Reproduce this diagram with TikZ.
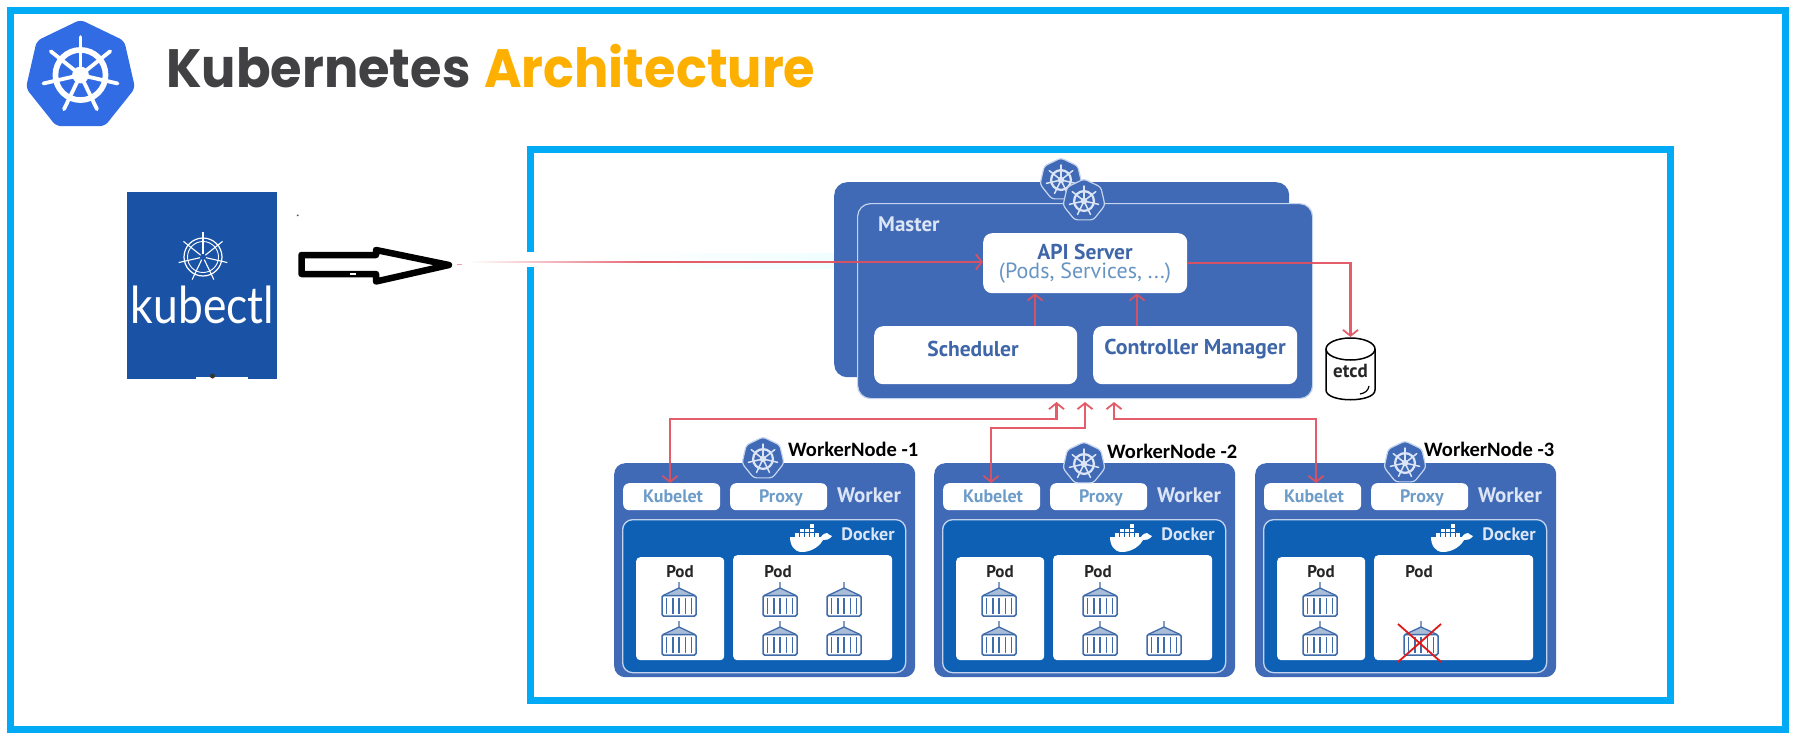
\documentclass[tikz,border=0pt]{standalone}
\usepackage{fontspec}
\usepackage{graphicx}
\setmainfont{PT Sans}
\newfontfamily\titlefont{Poppins}
\newfontfamily\calfont{Carlito}
\newfontfamily\ctlfont{Lato}
\usetikzlibrary{arrows.meta,shapes.geometric,calc}
\definecolor{framec}{HTML}{00AAF5}
\definecolor{panelc}{HTML}{416AB6}
\definecolor{edgec}{HTML}{C4D4EE}
\definecolor{dockerc}{HTML}{0E60B5}
\definecolor{labelc}{HTML}{3F66A8}
\definecolor{softc}{HTML}{6E9CC8}
\definecolor{cratec}{HTML}{3F6BA8}
\definecolor{redc}{HTML}{E2505F}
\definecolor{logoc}{HTML}{326CE5}
\definecolor{ctlc}{HTML}{1A52A6}
\definecolor{titlec}{HTML}{414042}
\definecolor{titley}{HTML}{FDB000}
\tikzset{
  framebox/.style={draw=framec,line width=7pt,miter limit=10},
  panelbox/.style={rectangle,rounded corners=11pt,fill=panelc,inner sep=0pt,anchor=north west},
  whitebox/.style={rectangle,rounded corners=9pt,fill=white,inner sep=0pt,anchor=north west},
  smallbox/.style={rectangle,rounded corners=6pt,fill=white,inner sep=0pt,anchor=north west},
  podbox/.style={rectangle,rounded corners=4pt,fill=white,inner sep=0pt,anchor=north west},
  redline/.style={draw=redc,opacity=.92,line width=2.2pt,>={Straight Barb[length=6pt,width=15pt,line width=1.8pt]}},
  helmhept/.style={regular polygon,regular polygon sides=7,inner sep=0pt,rounded corners=3pt,fill=panelc,draw=edgec,line width=1.2pt},
  mastertext/.style={font=\bfseries\fontsize{21.5}{24}\selectfont,text=labelc,inner sep=0pt},
  whitetext/.style={font=\bfseries\fontsize{21}{24}\selectfont,text=edgec!60!white,inner sep=0pt,anchor=base},
  softtext/.style={font=\bfseries\fontsize{18}{20}\selectfont,text=softc,inner sep=0pt,anchor=base},
  podtext/.style={font=\bfseries\fontsize{17}{20}\selectfont,text=black!85,inner sep=0pt,anchor=base},
  wntext/.style={font=\calfont\bfseries\fontsize{20.5}{24}\selectfont,text=black,inner sep=0pt,anchor=west},
  titletext/.style={font=\titlefont\bfseries\fontsize{54}{60}\selectfont,inner sep=0pt,anchor=base west},
}
% ship's wheel
\newcommand\helm[4]{%
  \begin{scope}[shift={(#1,#2)}]
    \draw[#4,line width={#3*0.15pt}] (0,0) circle ({#3*0.66});
    \foreach \k in {0,...,6}{
      \draw[#4,line cap=round,line width={#3*0.1pt}] ({270+\k*51.43}:{#3*0.12}) -- ({270+\k*51.43}:{#3});
    }
    \fill[#4] (0,0) circle ({#3*0.22});
  \end{scope}}
% container icon; #1 centre x, #2 top y
\newcommand\crate[2]{%
  \begin{scope}[shift={(#1,#2)}]
    \fill[cratec!45!white] (0,6) -- (-15,13.5) -- (15,13.5) -- cycle;
    \draw[cratec,line width=1.3pt] (0,0) -- (0,6) (-16,13.5) -- (0,6) -- (16,13.5);
    \draw[cratec,line width=1.5pt,rounded corners=1.5pt] (-17,13.5) rectangle (17,34);
    \foreach \a in {-12.6,-6.3,0,6.3,12.6}{\draw[cratec,line width=1.6pt] (\a,16) -- (\a,31.5);}
  \end{scope}}
% docker whale; #1 left x, #2 deck y
\newcommand\whale[2]{%
  \begin{scope}[shift={(#1,#2)}]
    \fill[white] (0,0) -- (31,0) .. controls (33,-3) and (35,-4) .. (37,-4) .. controls (38,-2) and (41,-2) .. (42,-1) .. controls (39,3) and (36,3) .. (33,3) .. controls (28,12) and (18,15) .. (12,15) .. controls (4,15) and (0,8) .. (0,0) -- cycle;
    \foreach \a/\b in {5/-4,10/-4,15/-4,20/-4,25/-4,10/-8.5,15/-8.5,20/-8.5,20/-13}{\fill[white] (\a,\b) rectangle ++(3.9,3.5);}
  \end{scope}}
% worker; #1 name prefix, #2 x shift
\newcommand\workerparts[2]{%
  \begin{scope}[shift={(#2,0)}]
    \node[panelbox,minimum width=301pt,minimum height=214pt] (#1panel) at (614,463) {};
    \node[smallbox,minimum width=97pt,minimum height=27pt] (#1kubelet) at (623,483) {};
    \node[softtext] (#1kubelettext) at (673,502) {Kubelet};
    \node[smallbox,minimum width=97pt,minimum height=27pt] (#1proxy) at (730,483) {};
    \node[softtext] (#1proxytext) at (781,502) {Proxy};
    \node[whitetext] (#1workertext) at (869,502) {Worker};
    \node[rectangle,rounded corners=10pt,fill=dockerc,draw=edgec,line width=1.3pt,inner sep=0pt,anchor=north west,minimum width=283pt,minimum height=153pt] (#1docker) at (622,519) {};
    \whale{790}{537}
    \node[font=\bfseries\fontsize{18}{20}\selectfont,text=edgec!60!white,inner sep=0pt,anchor=base] (#1dockertext) at (868,540) {Docker};
    \node[podbox,minimum width=88pt,minimum height=103pt] (#1poda) at (636,557) {};
    \node[podbox,minimum width=159pt,minimum height=105pt] (#1podb) at (733,555) {};
    \node[podtext] (#1podatext) at (680,577) {Pod};
    \node[podtext] (#1podbtext) at (778,577) {Pod};
    \crate{679}{582}
    \crate{679}{621}
  \end{scope}}
\begin{document}
\begin{tikzpicture}[x=1pt,y=-1pt]
\useasboundingbox (0,0) rectangle (1797,739);
\fill[white] (0,0) rectangle (1797,739);
% frames
\draw[framebox] (10.5,10.5) rectangle (1785.5,729.5);
\draw[framebox] (530.5,252) -- (530.5,149.5) -- (1670.5,149.5) -- (1670.5,700.5) -- (530.5,700.5) -- (530.5,267);
% title
\node[helmhept,draw=none,fill=logoc,minimum size=112pt,rounded corners=5pt] (logo) at (80.5,75.7) {};
\helm{80.5}{75}{38}{white}
\node[titletext,text=titlec] (titlea) at (166,87) {\scalebox{.945}[1]{Kubernetes}};
\node[titletext,text=titley] (titleb) at (484,87) {\scalebox{.945}[1]{Architecture}};
% kubectl
\node[rectangle,fill=ctlc,inner sep=0pt,anchor=north west,minimum width=150pt,minimum height=187pt] (ctl) at (127,192) {};
\fill[white] (196,377) rectangle (248,380);
\fill[black!80] (212.5,376) circle (2.5);
\draw[white,line width=1.2pt] (203,257) circle (19);
\draw[white,line width=.9pt] (203,257) circle (15.5);
\foreach \k in {0,...,6}{\draw[white,line width=1.1pt] (203,257) ++({270+\k*51.43}:3) -- ++({270+\k*51.43}:22);}
\node[font=\ctlfont\fontsize{51}{56}\selectfont,text=white,inner sep=0pt,anchor=base] (ctltext) at (202.5,323) {\scalebox{.87}[1]{kubectl}};
% hollow arrow
\draw[black,line width=6.5pt,line join=round,fill=white] (301.5,255) -- (376,255) -- (376,250) -- (449,265) -- (376,281.5) -- (376,274) -- (301.5,274) -- cycle;
\fill[white] (350,273) rectangle (356,275);
\fill[black!70] (297.7,215.3) circle (1);
% faded input line
\fill[left color=white,right color=blue!10!cyan!6!white,draw=none] (600,253) rectangle (835,268);
\fill[left color=white,right color=redc!85!white] (468,261.2) rectangle (640,262.8);
\fill[redc!55!white] (457,263.5) rectangle (462,265);
% master
\node[panelbox,minimum width=455pt,minimum height=195pt,rounded corners=13pt] (masterback) at (834,182) {};
\node[helmhept,minimum size=43pt] (hepta) at (1061,179.5) {};
\helm{1061}{180}{15}{edgec!60!white}
\node[panelbox,draw=edgec,line width=1.2pt,minimum width=455pt,minimum height=195pt,rounded corners=13pt] (master) at (857,203) {};
\node[helmhept,minimum size=43pt] (heptb) at (1084,200.5) {};
\helm{1084}{201}{15}{edgec!60!white}
\node[whitetext,anchor=base west] (mastertext) at (878,231) {Master};
\node[whitebox,minimum width=204pt,minimum height=60pt] (api) at (983,233) {};
\node[mastertext] (apitext) at (1085,252) {API Server};
\node[font=\fontsize{22}{24}\selectfont,text=softc!85!labelc,inner sep=0pt] (apisub) at (1085,273) {(Pods, Services, ...)};
\node[whitebox,minimum width=203pt,minimum height=58pt] (sched) at (874,326) {};
\node[mastertext] (schedtext) at (973,349) {Scheduler};
\node[whitebox,minimum width=204pt,minimum height=58pt] (ctrl) at (1093,326) {};
\node[mastertext] (ctrltext) at (1195,349) {\scalebox{1.02}[1]{Controller Manager}};
% etcd
\draw[black,line width=1.5pt,fill=white] (1326,349) -- (1326,390) .. controls (1326,403) and (1375,403) .. (1375,390) -- (1375,349);
\draw[black,line width=1.5pt,fill=white] (1350.5,349) ellipse (24.5 and 11);
\coordinate (etcdtop) at (1350.5,337);
\node[font=\bfseries\fontsize{19}{20}\selectfont,text=black!85,inner sep=0pt] (etcdtext) at (1350.5,371) {etcd};
\draw[black,line width=1.2pt] (1369,386) .. controls (1368,391) and (1365,393) .. (1360,394);
% workers
\workerparts{wa}{0}
\workerparts{wb}{320}
\workerparts{wc}{641}
\crate{780}{582}\crate{844}{582}\crate{780}{621}\crate{844}{621}
\crate{1100}{582}\crate{1100}{621}\crate{1164}{621}
\crate{1421}{621}
\draw[red!85!black!90,line width=1.8pt] (1398,624) -- (1441,662) (1441,624) -- (1398,662);
% worker helm badges
\node[helmhept,minimum size=43pt] (hwa) at (763,458.5) {};
\helm{763}{459}{15}{edgec!60!white}
\node[helmhept,minimum size=43pt] (hwb) at (1084,463.5) {};
\helm{1084}{464}{15}{edgec!60!white}
\node[helmhept,minimum size=43pt] (hwc) at (1405,462.5) {};
\helm{1405}{463}{15}{edgec!60!white}
\node[wntext] (wnl1) at (788,449) {WorkerNode -1};
\node[wntext] (wnl2) at (1107,451) {WorkerNode -2};
\node[wntext] (wnl3) at (1424,449) {WorkerNode -3};
% connectors
\coordinate (inl) at (640,262);
\coordinate (apiin) at (983,262);
\draw[redline,->] (inl) -- (apiin);
\draw[redline,->] (api.east) -| (etcdtop);
\draw[redline,->] (sched.north -| 1035,0) -- (api.south -| 1035,0);
\draw[redline,->] (ctrl.north -| 1137,0) -- (api.south -| 1137,0);
\coordinate (mba) at (1056.5,402);
\coordinate (mbb) at (1085,402);
\coordinate (mbc) at (1114,402);
\coordinate (kba) at (670,483);
\coordinate (kbb) at (991,483);
\coordinate (kbc) at (1316,483);
\coordinate (ela) at (1056.5,419);
\coordinate (elb) at (1085,428);
\coordinate (elc) at (1114,419);
\draw[redline,<->] (kba) |- (ela) -- (mba);
\draw[redline,<->] (kbb) |- (elb) -- (mbb);
\draw[redline,<->] (kbc) |- (elc) -- (mbc);
\end{tikzpicture}
\end{document}
